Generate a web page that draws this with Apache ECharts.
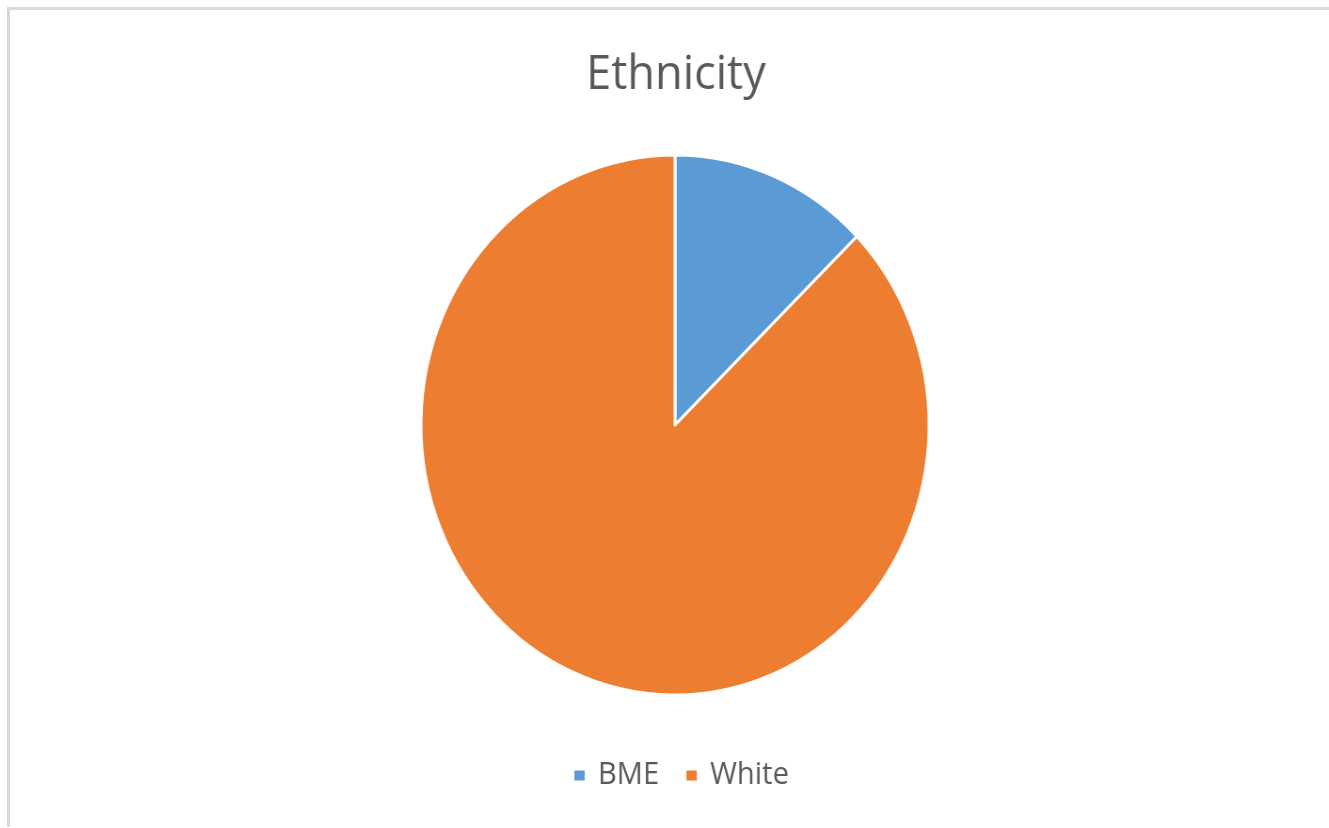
<!DOCTYPE html>
<html>
<head>
<meta charset="utf-8">
<script src="https://cdn.jsdelivr.net/npm/echarts@6/dist/echarts.min.js"></script>
<style>
  html, body { margin: 0; padding: 0; background: #fff; overflow: hidden; width: 1329px; height: 828px; }
  .ln { position: absolute; background: #d9d9d9; }
  #chart { position: absolute; left: 0; top: 0; width: 1329px; height: 828px;
           transform: scaleX(0.9407); transform-origin: 675px 0; }
</style>
</head>
<body>
<div class="ln" style="left:7px;top:7px;width:1322px;height:3px;"></div>
<div class="ln" style="left:7px;top:7px;width:3px;height:820px;"></div>
<div id="chart"></div>
<script>
const titleText = 'Ethnicity';
const categories = ['BME', 'White'];
const values = [12.7, 87.3];
const colors = ['#5B9BD5', '#ED7D31'];

const chart = echarts.init(document.getElementById('chart'), null, { renderer: 'canvas' });
chart.setOption({
  animation: false,
  backgroundColor: 'transparent',
  color: colors,
  title: {
    text: titleText,
    left: 671,
    top: 46,
    textAlign: 'center',
    textStyle: { fontFamily: 'Open Sans', fontSize: 48, fontWeight: 'normal', color: '#595959' }
  },
  legend: {
    data: categories,
    bottom: 32,
    left: 561,
    icon: 'rect',
    itemWidth: 13,
    itemHeight: 12,
    itemGap: 27,
    textStyle: { fontFamily: 'Open Sans', fontSize: 31, color: '#595959', padding: [0, 0, 0, 8] }
  },
  series: [{
    type: 'pie',
    center: [675, 425],
    radius: 270,
    startAngle: 90,
    clockwise: true,
    label: { show: false },
    labelLine: { show: false },
    itemStyle: { borderColor: '#fff', borderWidth: 3 },
    data: categories.map((c, i) => ({ name: c, value: values[i] }))
  }]
});
</script>
</body>
</html>
